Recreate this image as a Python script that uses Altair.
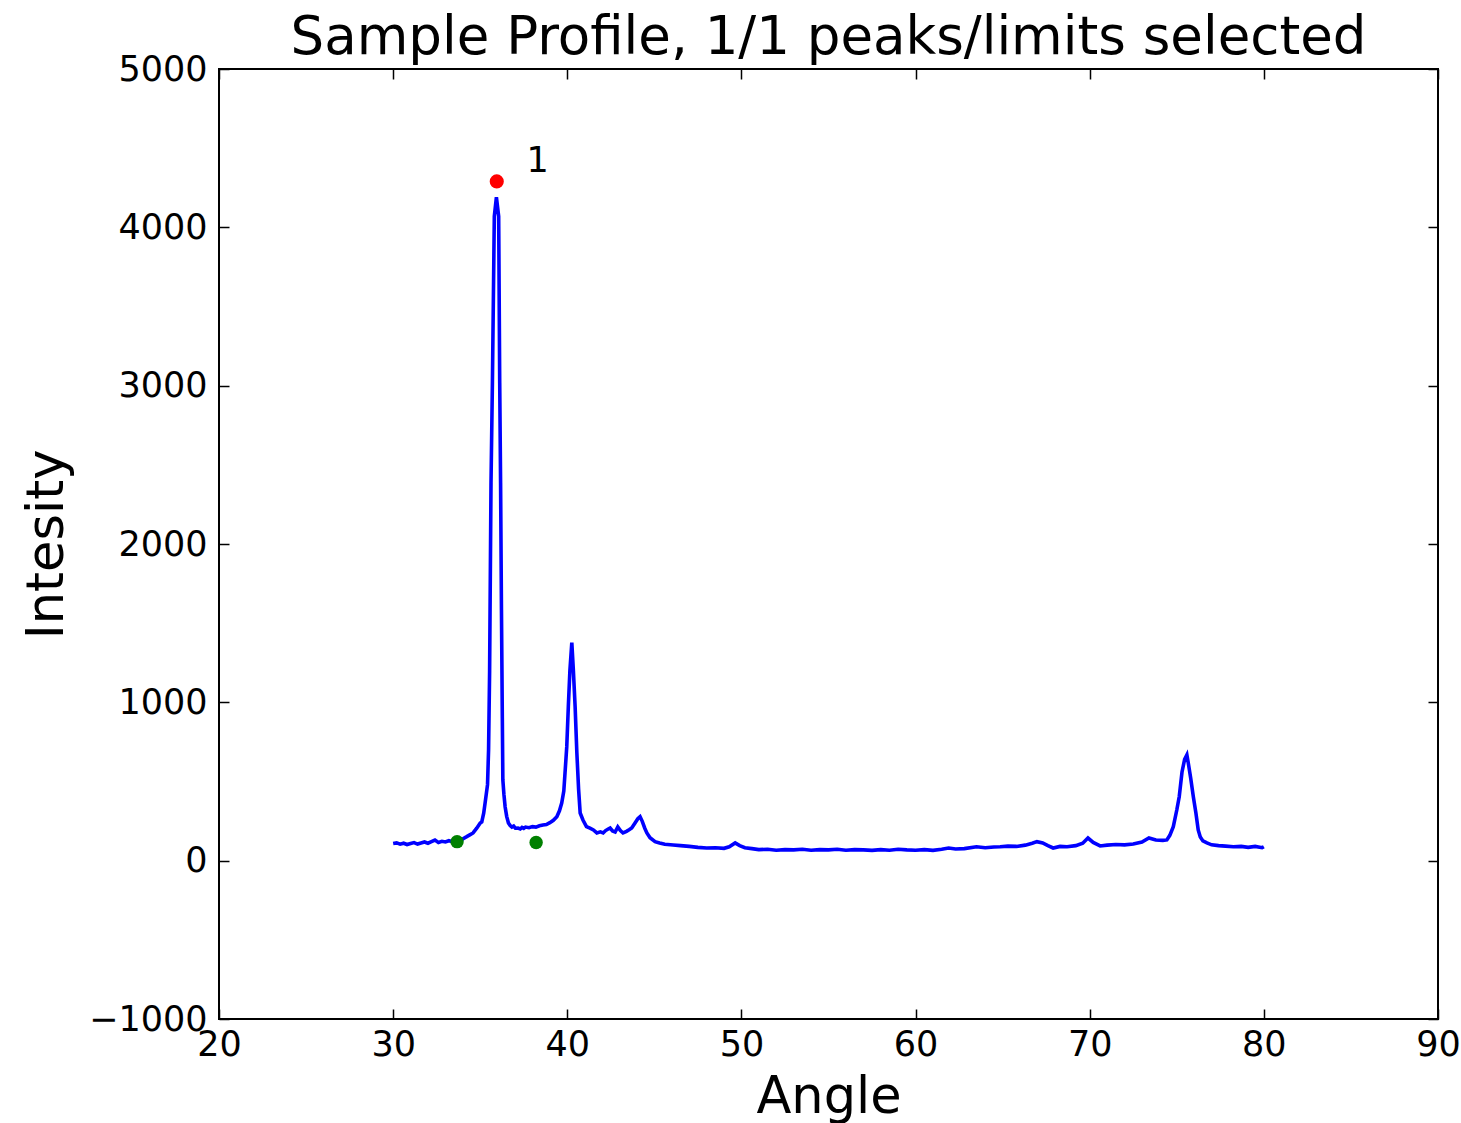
import altair as alt
import pandas as pd

angle = [
    30.0, 30.2, 30.4, 30.6, 30.8, 31.0, 31.2, 31.4, 31.6, 31.8,
    32.0, 32.2, 32.4, 32.6, 32.8, 33.0, 33.2, 33.4, 33.6, 33.84,
    34.0, 34.2, 34.4, 34.59, 34.8, 35.0, 35.09, 35.2, 35.28, 35.42,
    35.48, 35.54, 35.62, 35.70, 35.81, 35.93, 36.06, 36.12, 36.17, 36.22,
    36.27, 36.30, 36.36, 36.43, 36.52, 36.62, 36.72, 36.82, 36.92, 37.02,
    37.17, 37.3, 37.4, 37.5, 37.6, 37.8, 38.0, 38.2, 38.4, 38.6,
    38.8, 39.0, 39.2, 39.4, 39.55, 39.68, 39.8, 39.87, 39.97, 40.06,
    40.15, 40.26, 40.35, 40.45, 40.55, 40.65, 40.74, 40.9, 41.1, 41.3,
    41.5, 41.7, 41.9, 42.06, 42.2, 42.35, 42.46, 42.6, 42.75, 42.9,
    43.05, 43.2, 43.4, 43.55, 43.7, 43.9, 44.05, 44.18, 44.3, 44.45,
    44.57, 44.75, 45.04, 45.3, 45.6, 46.08, 46.5, 47.0, 47.5, 48.0,
    48.5, 49.0, 49.3, 49.64, 49.9, 50.2, 50.6, 51.0, 51.5, 52.0,
    52.5, 53.0, 53.5, 54.0, 54.5, 55.0, 55.5, 56.0, 56.5, 57.0,
    57.5, 58.0, 58.5, 59.0, 59.5, 60.0, 60.5, 61.0, 61.5, 61.9,
    62.3, 62.8, 63.5, 64.0, 64.5, 64.86, 65.3, 65.8, 66.3, 66.7,
    66.97, 67.3, 67.6, 67.9, 68.3, 68.7, 69.2, 69.6, 69.9, 70.2,
    70.6, 71.0, 71.5, 72.0, 72.5, 73.0, 73.4, 73.8, 74.2, 74.43,
    74.6, 74.8, 75.0, 75.14, 75.3, 75.45, 75.58, 75.66, 75.8, 75.95,
    76.1, 76.23, 76.35, 76.5, 76.73, 77.0, 77.4, 77.8, 78.25, 78.7,
    79.1, 79.5, 79.9, 80.0,
]
intensity = [
    108, 112, 104, 110, 102, 108, 114, 105, 112, 118,
    110, 120, 130, 115, 122, 118, 126, 120, 124, 118,
    138, 150, 163, 175, 205, 238, 245, 300, 364, 480,
    700, 1200, 2386, 3017, 4070, 4190, 4070, 3017, 2386, 1584,
    900, 510, 420, 341, 280, 238, 222, 212, 218, 205,
    206, 200, 210, 204, 212, 208, 215, 212, 220, 225,
    228, 240, 255, 278, 315, 364, 440, 554, 720, 973,
    1200, 1377, 1200, 973, 680, 450, 301, 257, 215, 205,
    194, 175, 182, 175, 190, 200, 206, 188, 181, 213,
    190, 175, 185, 195, 206, 240, 265, 278, 250, 205,
    175, 145, 120, 112, 104, 99, 95, 90, 84, 80,
    82, 78, 88, 112, 95, 82, 76, 70, 72, 66,
    70, 68, 72, 66, 70, 68, 72, 66, 70, 68,
    65, 70, 66, 72, 68, 66, 70, 65, 72, 80,
    74, 76, 88, 82, 86, 88, 92, 90, 98, 110,
    120, 112, 95, 80, 90, 88, 95, 110, 143, 115,
    93, 98, 102, 100, 105, 118, 143, 130, 128, 131,
    160, 215, 320, 404, 560, 640, 668, 617, 520, 404,
    300, 194, 150, 125, 112, 100, 95, 92, 88, 90,
    84, 90, 82, 88,
]

limit_angle = [33.67, 38.21]
limit_intensity = [120, 115]

peak_angle = [35.95]
peak_intensity = [4290]

label_angle = [38.3]
label_intensity = [4420]
label_text = ["1"]

x_ticks = [20, 30, 40, 50, 60, 70, 80, 90]
y_ticks = [-1000, 0, 1000, 2000, 3000, 4000, 5000]

FONT = "DejaVu Sans"

profile = pd.DataFrame({"angle": angle, "intensity": intensity})
limits = pd.DataFrame({"angle": limit_angle, "intensity": limit_intensity})
peaks = pd.DataFrame({"angle": peak_angle, "intensity": peak_intensity})
labels = pd.DataFrame({"angle": label_angle, "intensity": label_intensity, "text": label_text})

xs = alt.Scale(domain=[20, 90], nice=False, zero=False)
ys = alt.Scale(domain=[-1000, 5000], nice=False, zero=False)

tick_common = dict(
    offset=-10, tickSize=10, tickWidth=1.5, tickColor="black",
    domain=False, grid=False, labelFlush=False,
)

line = alt.Chart(profile).mark_line(color="#0000ff", strokeWidth=3.6, clip=True).encode(
    x=alt.X("angle:Q", scale=xs, axis=alt.Axis(
        orient="bottom", values=x_ticks, format="d", title="Angle",
        labelFontSize=35, labelFont=FONT, labelColor="black", labelPadding=8,
        titleFontSize=51, titleFont=FONT, titleFontWeight="normal", titleColor="black",
        titlePadding=10, **tick_common)),
    y=alt.Y("intensity:Q", scale=ys, axis=alt.Axis(
        orient="left", values=y_ticks, format="d", title="Intesity",
        labelFontSize=35, labelFont=FONT, labelColor="black", labelPadding=12,
        titleFontSize=51, titleFont=FONT, titleFontWeight="normal", titleColor="black",
        titlePadding=15, **tick_common)),
)

peak_pts = alt.Chart(peaks).mark_circle(color="#ff0000", size=200, opacity=1).encode(
    x=alt.X("angle:Q", scale=xs, axis=alt.Axis(
        orient="top", values=x_ticks, labels=False, title=None, **tick_common)),
    y=alt.Y("intensity:Q", scale=ys, axis=alt.Axis(
        orient="right", values=y_ticks, labels=False, title=None, **tick_common)),
)

limit_pts = alt.Chart(limits).mark_circle(color="#008000", size=180, opacity=1).encode(
    x=alt.X("angle:Q", scale=xs, axis=None),
    y=alt.Y("intensity:Q", scale=ys, axis=None),
)

label_marks = alt.Chart(labels).mark_text(
    font=FONT, fontSize=35, color="black", align="center", baseline="middle"
).encode(
    x=alt.X("angle:Q", scale=xs, axis=None),
    y=alt.Y("intensity:Q", scale=ys, axis=None),
    text="text:N",
)

chart = alt.layer(line, limit_pts, peak_pts, label_marks).resolve_axis(
    x="independent", y="independent"
).properties(
    width=1219,
    height=950,
    title=alt.TitleParams(
        "Sample Profile, 1/1 peaks/limits selected",
        font=FONT, fontSize=53, fontWeight="normal", color="black",
        anchor="middle", offset=-13,
    ),
    autosize=alt.AutoSizeParams(type="none"),
    padding={"left": 219, "top": 69, "right": 23, "bottom": 104},
).configure(
    background="white",
    view=alt.ViewConfig(stroke="black", strokeWidth=2),
)

chart.save("out.html", embed_options={"renderer": "svg", "actions": False})
